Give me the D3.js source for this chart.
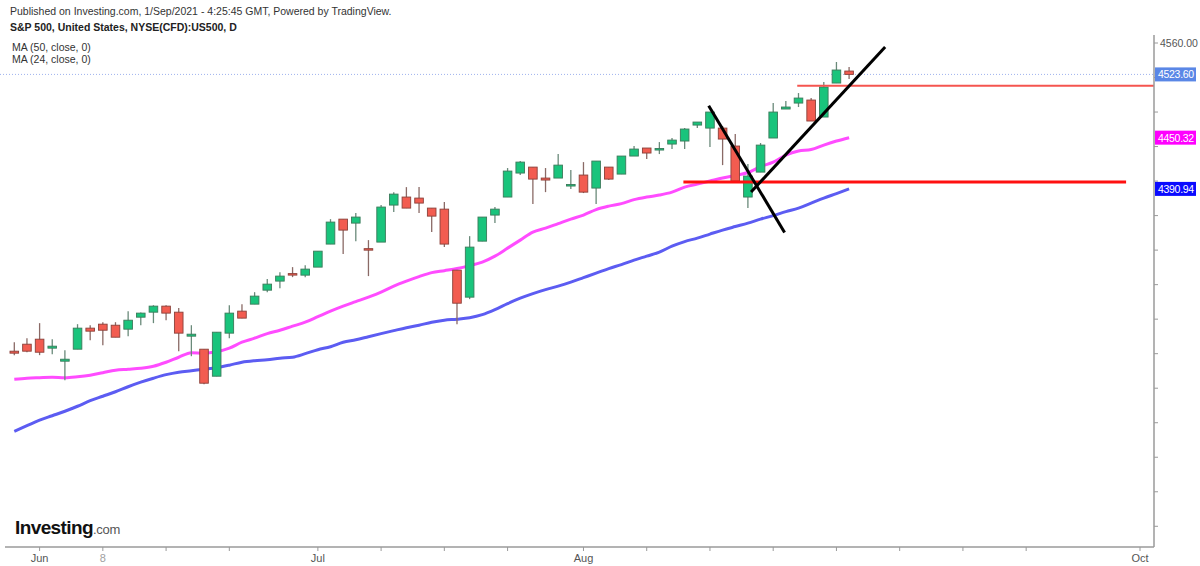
<!DOCTYPE html>
<html>
<head>
<meta charset="utf-8">
<script src="https://cdn.jsdelivr.net/npm/d3@7/dist/d3.min.js"></script>
<style>
  html, body { margin: 0; padding: 0; background: #fff; }
  svg { display: block; font-family: "Liberation Sans", Arial, sans-serif; }
</style>
</head>
<body>
<svg id="chart" width="1200" height="566"></svg>
<script>
// ---------------- DATA ----------------
const dates = [
  "2021-05-27","2021-05-28",
  "2021-06-01","2021-06-02","2021-06-03","2021-06-04","2021-06-07","2021-06-08","2021-06-09","2021-06-10","2021-06-11",
  "2021-06-14","2021-06-15","2021-06-16","2021-06-17","2021-06-18","2021-06-21","2021-06-22","2021-06-23","2021-06-24","2021-06-25",
  "2021-06-28","2021-06-29","2021-06-30",
  "2021-07-01","2021-07-02","2021-07-06","2021-07-07","2021-07-08","2021-07-09","2021-07-12","2021-07-13","2021-07-14","2021-07-15",
  "2021-07-16","2021-07-19","2021-07-20","2021-07-21","2021-07-22","2021-07-23","2021-07-26","2021-07-27","2021-07-28","2021-07-29","2021-07-30",
  "2021-08-02","2021-08-03","2021-08-04","2021-08-05","2021-08-06","2021-08-09","2021-08-10","2021-08-11","2021-08-12","2021-08-13",
  "2021-08-16","2021-08-17","2021-08-18","2021-08-19","2021-08-20","2021-08-23","2021-08-24","2021-08-25","2021-08-26","2021-08-27",
  "2021-08-30","2021-08-31"
];
const opens = [4202.9,4211.0,4216.8,4206.4,4191.3,4205.2,4229.6,4234.2,4233.0,4228.4,4242.3,4248.1,4255.1,4248.1,4220.3,4205.2,4173.9,4223.8,4249.3,4257.4,4273.6,4284.1,4292.8,4291.0,4300.3,4327.0,4355.9,4351.3,4321.7,4329.3,4372.2,4381.5,4380.3,4368.7,4367.5,4296.8,4265.5,4330.4,4360.6,4381.5,4409.3,4416.2,4403.5,4403.5,4394.8,4407.0,4391.9,4416.2,4408.1,4429.0,4438.3,4436.5,4442.9,4446.4,4464.9,4461.4,4461.4,4440.6,4381.5,4410.4,4449.9,4483.5,4490.4,4493.9,4474.2,4513.6,4527.5];
const highs = [4213.3,4218.0,4235.4,4216.8,4204.1,4234.2,4233.0,4236.5,4236.5,4249.3,4247.6,4256.2,4256.2,4252.8,4233.0,4205.2,4224.9,4256.2,4257.4,4271.3,4286.4,4294.5,4300.3,4302.6,4318.8,4355.9,4355.9,4362.9,4331.6,4372.2,4387.2,4393.0,4393.0,4368.7,4375.7,4296.8,4336.2,4358.3,4369.9,4415.1,4423.2,4416.2,4415.1,4431.3,4412.8,4422.0,4423.2,4416.2,4429.0,4440.6,4438.3,4445.2,4449.9,4461.4,4468.4,4480.0,4463.8,4454.5,4419.7,4444.1,4490.4,4492.8,4502.0,4496.2,4514.8,4538.0,4532.2];
const lows = [4198.3,4201.7,4198.3,4199.4,4169.3,4205.2,4215.7,4209.9,4219.1,4220.3,4233.0,4235.4,4238.8,4202.9,4197.1,4164.6,4173.9,4218.0,4241.2,4257.4,4271.3,4275.9,4288.7,4288.7,4300.3,4327.0,4315.4,4330.4,4289.9,4329.3,4364.1,4368.7,4362.9,4340.9,4323.5,4234.2,4263.2,4330.4,4351.3,4381.5,4407.0,4373.3,4387.2,4403.5,4390.7,4386.1,4373.3,4401.2,4408.1,4429.0,4425.5,4431.3,4437.1,4437.1,4461.4,4439.4,4418.5,4400.0,4368.7,4410.4,4449.9,4483.5,4485.8,4469.6,4474.2,4513.6,4518.3];
const closes = [4200.6,4202.9,4201.7,4208.7,4193.6,4229.6,4226.1,4227.2,4219.1,4238.8,4247.0,4255.1,4247.0,4223.8,4222.6,4165.8,4224.9,4247.0,4241.2,4266.7,4280.6,4289.9,4291.6,4298.0,4318.8,4352.5,4343.2,4358.3,4320.6,4369.9,4384.9,4368.7,4374.5,4359.4,4327.0,4258.5,4323.5,4358.3,4367.5,4411.6,4422.0,4402.3,4401.2,4418.5,4396.0,4387.2,4423.2,4402.3,4429.0,4437.1,4432.5,4437.7,4447.5,4460.3,4468.4,4480.0,4448.7,4400.0,4405.8,4441.7,4480.0,4485.8,4496.2,4469.6,4509.0,4528.7,4523.6];
const ma24 = [4170.4,4171.6,4172.2,4172.7,4172.2,4173.3,4175.1,4178.0,4180.9,4182.0,4183.2,4185.5,4190.1,4195.9,4201.2,4200.6,4202.3,4206.4,4213.3,4218.0,4223.2,4227.2,4231.9,4236.5,4242.9,4249.3,4255.1,4260.3,4265.5,4271.3,4278.3,4284.1,4289.3,4293.9,4296.2,4298.6,4302.0,4306.1,4313.0,4322.3,4331.6,4340.9,4345.5,4350.7,4355.9,4360.6,4367.0,4371.0,4373.9,4378.5,4381.5,4383.8,4387.2,4393.0,4396.5,4400.0,4403.5,4406.4,4409.9,4416.8,4422.0,4430.1,4434.8,4436.5,4441.7,4446.4,4450.32];
const ma50 = [4110.1,4116.5,4122.9,4128.1,4133.3,4139.1,4145.5,4150.7,4155.9,4161.7,4167.0,4171.6,4175.7,4178.6,4180.3,4182.0,4183.8,4186.7,4190.1,4191.9,4193.0,4194.8,4195.9,4200.0,4204.6,4208.1,4213.3,4216.2,4219.7,4223.2,4226.7,4230.1,4233.0,4236.5,4238.8,4240.0,4241.7,4245.2,4251.0,4258.0,4264.3,4269.6,4274.2,4278.3,4282.9,4288.1,4293.3,4298.6,4303.2,4308.4,4313.0,4317.7,4324.6,4329.9,4333.9,4338.6,4343.2,4347.3,4351.3,4355.9,4360.0,4364.6,4368.7,4374.5,4380.3,4385.5,4390.94];

// x-axis ticks (bar index incl. future bars) and their labels
const xTickIndex  = [2, 7, 12, 17, 24, 29, 34, 39, 45, 50, 55, 60, 65, 70, 75, 80, 89];
const xTickLabels = ["Jun", "8", "", "", "Jul", "", "", "", "Aug", "", "", "", "", "", "", "", "Oct"];
// y-axis ticks
const yTickValues = [4000,4040,4080,4120,4160,4200,4240,4280,4320,4360,4400,4440,4480,4520,4560];
const yTickLabels = ["","","","","","","","","","","","","","","4560.00"];

// drawn annotations: [barIndex, price]
const trendDown = [[54.9, 4487.3], [60.9, 4340.5]];
const trendUp   = [[58.25, 4387.3], [68.85, 4555.4]];
const supportLine = [[52.9, 4398.8], [87.9, 4398.8]];
const resistLine  = [[61.9, 4510.5], [90.2, 4510.5]];

const headerLines = [
  "Published on Investing.com, 1/Sep/2021 - 4:25:45 GMT, Powered by TradingView.",
  "S&P 500, United States, NYSE(CFD):US500, D"
];
const legendLines = ["MA (50, close, 0)", "MA (24, close, 0)"];

// ---------------- CHART ----------------
const svg = d3.select("#chart");
const W = 1200, H = 566;
const plotRight = 1154, plotTop = 35, plotBottom = 547;

svg.append("rect").attr("width", W).attr("height", H).attr("fill", "#fff");

const x = d3.scaleLinear().domain([0, 89]).range([14.3, 1140]);
const y = d3.scaleLinear().domain([3976, 4560]).range([547, 43]);
const step = x(1) - x(0);

svg.append("defs").append("clipPath").attr("id", "plotclip")
  .append("rect").attr("x", 0).attr("y", plotTop).attr("width", plotRight).attr("height", plotBottom - plotTop);

const plot = svg.append("g").attr("clip-path", "url(#plotclip)");

const bars = dates.map((d, i) => ({ i, date: d, o: opens[i], h: highs[i], l: lows[i], c: closes[i] }));

// last price dotted line
plot.append("line")
  .attr("x1", 0).attr("x2", plotRight)
  .attr("y1", y(closes[closes.length - 1])).attr("y2", y(closes[closes.length - 1]))
  .attr("stroke", "#9fb2ee").attr("stroke-width", 1).attr("stroke-dasharray", "1,2");

// moving averages
const lineGen = d3.line().x((d, i) => x(i)).y(d => y(d)).curve(d3.curveMonotoneX);
plot.append("path").datum(ma50).attr("d", lineGen)
  .attr("fill", "none").attr("stroke", "#5c5cf2").attr("stroke-width", 3);
plot.append("path").datum(ma24).attr("d", lineGen)
  .attr("fill", "none").attr("stroke", "#ff4cff").attr("stroke-width", 3);

// candles
const upFill = "#19c47c", upLine = "#3b7a5a";
const dnFill = "#f25c50", dnLine = "#8a4039";
const bodyW = step * 0.68;
const cg = plot.append("g").selectAll("g").data(bars).join("g");
cg.append("line")
  .attr("x1", d => x(d.i)).attr("x2", d => x(d.i))
  .attr("y1", d => y(d.h)).attr("y2", d => y(d.l))
  .attr("stroke", d => d.c >= d.o ? "#6a8a7a" : "#8a6a66").attr("stroke-width", 1.3);
cg.append("rect")
  .attr("x", d => x(d.i) - bodyW / 2)
  .attr("width", bodyW)
  .attr("y", d => y(Math.max(d.o, d.c)))
  .attr("height", d => Math.max(1.5, Math.abs(y(d.o) - y(d.c))))
  .attr("fill", d => d.c >= d.o ? upFill : dnFill)
  .attr("stroke", d => d.c >= d.o ? upLine : dnLine)
  .attr("stroke-width", 0.9);

// annotations
const seg = d3.line().x(d => x(d[0])).y(d => y(d[1]));
plot.append("path").datum(resistLine).attr("d", seg).attr("stroke", "#f5554f").attr("stroke-width", 2).attr("fill", "none");
plot.append("path").datum(supportLine).attr("d", seg).attr("stroke", "#ff1010").attr("stroke-width", 3).attr("fill", "none");
plot.append("path").datum(trendDown).attr("d", seg).attr("stroke", "#000").attr("stroke-width", 3).attr("fill", "none");
plot.append("path").datum(trendUp).attr("d", seg).attr("stroke", "#000").attr("stroke-width", 3).attr("fill", "none");

// axes
const axisColor = "#9a9a9a";
svg.append("line").attr("x1", 5).attr("x2", plotRight).attr("y1", plotBottom).attr("y2", plotBottom)
  .attr("stroke", axisColor).attr("stroke-width", 1.5);
svg.append("line").attr("x1", plotRight).attr("x2", plotRight).attr("y1", plotTop).attr("y2", plotBottom)
  .attr("stroke", axisColor).attr("stroke-width", 1.5);

// x ticks
const xTicks = xTickIndex.map((v, k) => ({ v, lab: xTickLabels[k] }));
svg.append("g").selectAll("line").data(xTicks).join("line")
  .attr("x1", d => x(d.v)).attr("x2", d => x(d.v)).attr("y1", plotBottom).attr("y2", plotBottom + 4)
  .attr("stroke", axisColor).attr("stroke-width", 1);
svg.append("g").selectAll("text").data(xTicks.filter(d => d.lab !== "")).join("text")
  .attr("x", d => x(d.v)).attr("y", 562).attr("text-anchor", "middle")
  .attr("font-size", 11).attr("fill", d => /^\d+$/.test(d.lab) ? "#a0a0a0" : "#555")
  .text(d => d.lab);

// y ticks
const yTicks = yTickValues.map((v, k) => ({ v, lab: yTickLabels[k] }));
svg.append("g").selectAll("line").data(yTicks).join("line")
  .attr("x1", plotRight).attr("x2", plotRight + 4).attr("y1", d => y(d.v)).attr("y2", d => y(d.v))
  .attr("stroke", axisColor).attr("stroke-width", 1);
svg.append("g").selectAll("text").data(yTicks.filter(d => d.lab !== "")).join("text")
  .attr("x", plotRight + 6).attr("y", d => y(d.v) + 4)
  .attr("font-size", 10.5).attr("fill", "#555").text(d => d.lab);

// price labels on axis
const priceTags = [
  { v: closes[closes.length - 1], fill: "#5a87e6" },
  { v: ma24[ma24.length - 1], fill: "#ff00ff" },
  { v: ma50[ma50.length - 1], fill: "#0a0aff" }
];
const pt = svg.append("g").selectAll("g").data(priceTags).join("g");
pt.append("rect").attr("x", plotRight + 1).attr("y", d => y(d.v) - 7).attr("width", 41).attr("height", 14)
  .attr("fill", d => d.fill);
pt.append("text").attr("x", plotRight + 4).attr("y", d => y(d.v) + 4)
  .attr("font-size", 10.5).attr("letter-spacing", -0.3).attr("fill", "#fff").text(d => d.v.toFixed(2));

// header
svg.append("text").attr("x", 10).attr("y", 15).attr("font-size", 10.5).attr("fill", "#333").text(headerLines[0]);
svg.append("text").attr("x", 10).attr("y", 31).attr("font-size", 10.5).attr("font-weight", "bold").attr("fill", "#222").text(headerLines[1]);
legendLines.forEach((t, k) => {
  svg.append("text").attr("x", 12).attr("y", 51 + k * 12).attr("font-size", 10.5).attr("fill", "#333").text(t);
});

// logo
const logo = svg.append("text").attr("x", 15).attr("y", 534);
logo.append("tspan").attr("font-size", 19).attr("font-weight", "bold").attr("fill", "#111").attr("letter-spacing", -0.6).text("Investing");
logo.append("tspan").attr("font-size", 13).attr("fill", "#555").attr("letter-spacing", -0.3).text(".com");
</script>
</body>
</html>
